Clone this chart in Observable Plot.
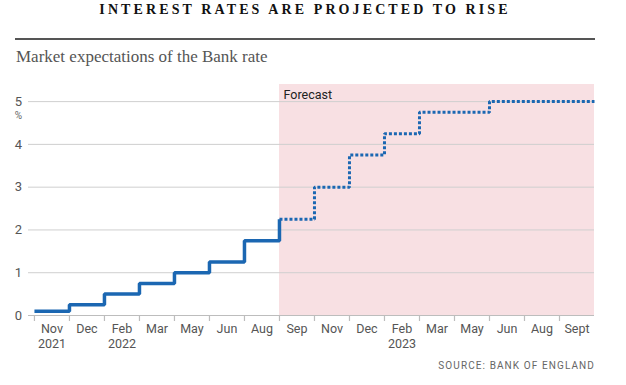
<!DOCTYPE html>
<html>
<head>
<meta charset="utf-8">
<script src="https://cdn.jsdelivr.net/npm/d3@7"></script>
<script src="https://cdn.jsdelivr.net/npm/@observablehq/plot@0.6"></script>
<style>
  html, body { margin: 0; padding: 0; background: #fff; }
  #page { position: relative; width: 626px; height: 385px; overflow: hidden; }
  #title { position: absolute; left: 0; width: 610px; top: 0; line-height: 20px; text-align: center;
    font-family: "Liberation Serif", "DejaVu Serif", serif; font-weight: bold; font-size: 14px;
    letter-spacing: 3.1px; color: #111; }
  #rule { position: absolute; left: 15px; width: 580px; top: 38px; height: 2px; background: #555; }
  #subtitle { position: absolute; left: 16px; top: 47px; line-height: 20px;
    font-family: "Liberation Serif", "DejaVu Serif", serif; font-size: 17px; color: #555; }
  #chart { position: absolute; left: 0; top: 70px; }
  #source { position: absolute; right: 31px; top: 359px; line-height: 14px;
    font-family: "Roboto", sans-serif; font-size: 10px;
    letter-spacing: 1.1px; color: #666; }
</style>
</head>
<body>
<div id="page">
  <div id="title">INTEREST RATES ARE PROJECTED TO RISE</div>
  <div id="rule"></div>
  <div id="subtitle">Market expectations of the Bank rate</div>
  <div id="chart"></div>
  <div id="source">SOURCE: BANK OF ENGLAND</div>
</div>
<script>
const months = ["Nov","Dec","Feb","Mar","May","Jun","Aug","Sep","Nov","Dec","Feb","Mar","May","Jun","Aug","Sept"];
const years = ["2021","","2022","","","","","","","","2023","","","","",""];
const actualRates = [0.1, 0.25, 0.5, 0.75, 1.0, 1.25, 1.75];
const forecastRates = [2.25, 3.0, 3.75, 4.25, 4.75, 4.75, 5.0, 5.0, 5.0];
const yTicks = [0, 1, 2, 3, 4, 5];
const forecastLabel = "Forecast";
const unitLabel = "%";

const n = months.length;
const fStart = actualRates.length;
const xMin = -0.17, yMax = 5.4;

const actualPts = actualRates.map((v, i) => ({x: i, y: v}));
actualPts.push({x: fStart, y: forecastRates[0]});
const forecastPts = forecastRates.map((v, i) => ({x: fStart + i, y: v}));
forecastPts.push({x: n, y: forecastRates[forecastRates.length - 1]});

const labels = months.map((m, i) => ({x: i + 0.5, text: years[i] ? m + "\n" + years[i] : m}));

const sans = '"Roboto", sans-serif';
const blue = "#1b67b2";

const chart = Plot.plot({
  width: 626,
  height: 290,
  marginTop: 14,
  marginBottom: 45,
  marginLeft: 28,
  marginRight: 32,
  x: {domain: [xMin, n], axis: null},
  y: {domain: [0, yMax], axis: null},
  style: {fontFamily: sans, overflow: "visible"},
  marks: [
    Plot.rect([{x1: fStart, x2: n, y1: 0, y2: yMax}], {x1: "x1", x2: "x2", y1: "y1", y2: "y2", fill: "#f8e0e3"}),
    Plot.ruleY(yTicks.filter(d => d > 0), {stroke: "#cfcfcf", strokeWidth: 1}),
    Plot.ruleY([0], {stroke: "#bdbdbd", strokeWidth: 1.2}),
    Plot.axisX({ticks: d3.range(0, n), tickFormat: () => "", tickSize: 6, stroke: "#bdbdbd", strokeWidth: 1.2, anchor: "bottom", y: 0}),
    Plot.text(labels, {x: "x", y: () => 0, text: "text", lineAnchor: "top", dy: 7, fontSize: 12.5, fill: "#555", lineHeight: 1.2}),
    Plot.text(yTicks, {x: () => xMin, y: d => d, text: d => String(d), dx: -10, textAnchor: "middle", fontSize: 13, fill: "#555"}),
    Plot.text([unitLabel], {x: () => xMin, y: () => 5, text: d => d, dx: -10, dy: 14, textAnchor: "middle", fontSize: 10, fill: "#666"}),
    Plot.text([forecastLabel], {x: () => fStart, y: () => yMax, text: d => d, dx: 4, dy: 10, textAnchor: "start", fontSize: 12.5, fill: "#222"}),
    Plot.line(forecastPts, {x: "x", y: "y", curve: "step-after", stroke: blue, strokeWidth: 3, strokeDasharray: "3,2", strokeLinecap: "butt", strokeLinejoin: "miter"}),
    Plot.line(actualPts, {x: "x", y: "y", curve: "step-after", stroke: blue, strokeWidth: 3.5, strokeLinecap: "butt", strokeLinejoin: "miter"})
  ]
});
document.getElementById("chart").appendChild(chart);
</script>
</body>
</html>
